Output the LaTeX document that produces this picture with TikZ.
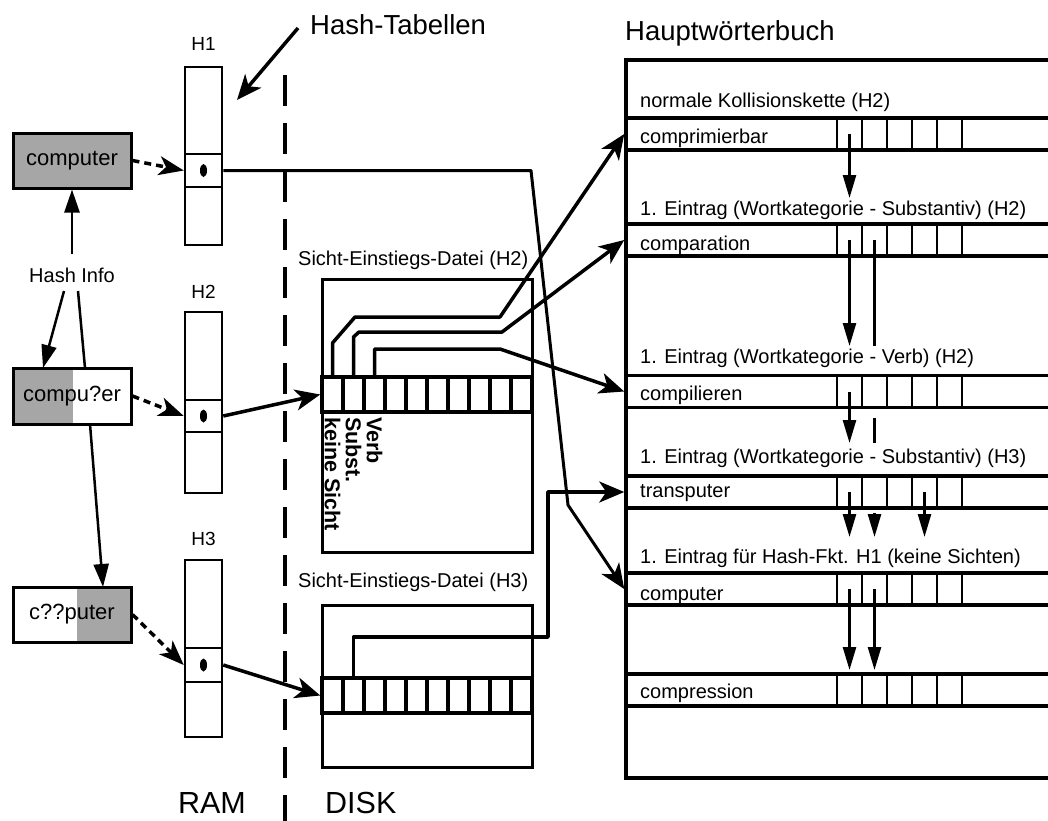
\documentclass[tikz,border=0pt]{standalone}
\usepackage{fontspec}
\setmainfont{Liberation Sans}
\usetikzlibrary{arrows.meta}
\begin{document}
\begin{tikzpicture}[x=1pt,y=-1pt,
  lab/.style={inner sep=0pt, font=\fontsize{20}{24}\selectfont},
  hlab/.style={inner sep=0pt, font=\fontsize{19}{23}\selectfont},
  titlefont/.style={inner sep=0pt, font=\fontsize{27.5}{32}\selectfont},
  ramfont/.style={inner sep=0pt, font=\fontsize{30.5}{36}\selectfont},
  vlab/.style={inner sep=0pt, rotate=-90, anchor=west, font=\bfseries\fontsize{21.5}{24}\selectfont},
  wbox/.style={draw, line width=3pt, minimum width=118pt, inner sep=0pt, font=\fontsize{22}{26}\selectfont},
  shade/.style={fill=black!35},
  htab/.style={draw, line width=2.5pt, minimum width=37pt, inner sep=0pt},
  hcell/.style={draw, line width=2.5pt, minimum width=37pt, inner sep=0pt},
  sedbox/.style={draw, line width=3pt, minimum width=210pt, inner sep=0pt},
  scell/.style={draw, line width=3.5pt, minimum width=21pt, minimum height=35pt, inner sep=0pt},
  drow/.style={draw, line width=3.5pt, minimum width=460pt, minimum height=32pt, inner sep=0pt},
  dcell/.style={draw, line width=2pt, minimum width=25pt, minimum height=32pt, inner sep=0pt},
  conn/.style={line width=3.5pt, line join=round, -{Stealth[length=25pt,width=21pt,inset=7pt]}},
  dsh/.style={line width=3.5pt, dash pattern=on 7pt off 5pt, -{Stealth[length=25pt,width=19pt,inset=7pt]}},
  varr/.style={line width=2.5pt, -{Triangle[length=23pt,width=13pt]}},
  vline/.style={line width=2.5pt},
  harr/.style={line width=2.5pt, -{Triangle[length=23pt,width=15pt]}},
]
\useasboundingbox (0,0) rectangle (1048,820);

% ---------- titles ----------
\node[titlefont, anchor=base west] (ht) at (310,34) {Hash-Tabellen};
\node[titlefont, anchor=base west] (hw) at (625,40) {Hauptwörterbuch};
\node[ramfont, anchor=base] (ram) at (212,813) {RAM};
\node[ramfont, anchor=base west] (disk) at (325,813) {DISK};

% ---------- RAM / DISK divider ----------
\draw[line width=4.5pt, dash pattern=on 31pt off 17pt] (285,75) -- (285,830);

% ---------- word boxes ----------
\node[wbox, shade, minimum height=55pt] (w1) at (72,160.5) {computer};
\fill[shade] (13,368) rectangle (73,424);
\node[wbox, minimum height=56pt] (w2) at (72,396) {compu?er};
\fill[shade] (77,587) rectangle (131,642);
\node[wbox, minimum height=55pt] (w3) at (72,614.5) {c??puter};
\node[lab, anchor=base] (hi) at (72,282) {Hash Info};

\coordinate (hiA) at (72,254);
\coordinate (hiB) at (64,291);
\coordinate (w2A) at (43,368);
\coordinate (hiC) at (78,291);
\coordinate (w2B) at (85,368);
\coordinate (w2C) at (90,424);
\coordinate (w3A) at (103,587);
\draw[harr] (hiA) -- (w1.south);
\draw[harr] (hiB) -- (w2A);
\draw[vline] (hiC) -- (w2B);
\draw[harr] (w2C) -- (w3A);

% ---------- hash tables ----------
\node[hlab, anchor=base] (l1) at (203.5,50) {H1};
\node[hlab, anchor=base] (l2) at (203.5,298) {H2};
\node[hlab, anchor=base] (l3) at (203.5,545) {H3};
\node[htab, minimum height=178pt] (h1) at (203.5,156) {};
\node[hcell, minimum height=33pt] (h1c) at (203.5,170.5) {};
\node[htab, minimum height=181pt] (h2) at (203.5,402.5) {};
\node[hcell, minimum height=32pt] (h2c) at (203.5,416) {};
\node[htab, minimum height=177pt] (h3) at (203.5,648.5) {};
\node[hcell, minimum height=34pt] (h3c) at (203.5,665) {};
\foreach \c in {h1c,h2c,h3c}
  \fill (\c.center) ellipse [x radius=3.5pt, y radius=6.5pt];

\coordinate (htS) at (298,28);
\coordinate (htE) at (237,100);
\draw[conn] (htS) -- (htE);

\draw[dsh] (w1.east) -- (h1c.west);
\draw[dsh] (w2.east) -- (h2c.west);
\draw[dsh] (w3.east) -- (h3c.west);

% ---------- Sicht-Einstiegs-Dateien ----------
\node[lab, anchor=base west] (sl2) at (298,265) {Sicht-Einstiegs-Datei (H2)};
\node[sedbox, minimum height=273pt] (s2) at (427,415.5) {};
\foreach \i in {1,...,10}
  \node[scell] (s2c\i) at ({311.5+21*\i},394.5) {};
\node[vlab] (v1) at (332.5,417) {keine Sicht};
\node[vlab] (v2) at (353.5,417) {Subst.};
\node[vlab] (v3) at (374.5,417) {Verb};

\node[lab, anchor=base west] (sl3) at (298,587) {Sicht-Einstiegs-Datei (H3)};
\node[sedbox, minimum height=162pt] (s3) at (427,686) {};
\foreach \i in {1,...,10}
  \node[scell] (s3c\i) at ({311.5+21*\i},695.5) {};

% ---------- Hauptwoerterbuch ----------
\node[draw, line width=3.5pt, minimum width=460pt, minimum height=718pt, inner sep=0pt] (dict) at (856,419) {};
\node[drow] (r1) at (856,134) {};
\node[drow] (r2) at (856,240) {};
\node[drow] (r3) at (856,391.5) {};
\node[drow] (r4) at (856,492) {};
\node[drow] (r5) at (856,589) {};
\node[drow] (r6) at (856,690) {};
\foreach \r in {r1,r2,r3,r4,r5,r6}
  \foreach \j in {1,...,5}
    \node[dcell] (\r c\j) at ({824.5+25*\j},0 |- \r.center) {};

\node[lab, anchor=base west] (k1) at (640,107) {normale Kollisionskette (H2)};
\node[lab, anchor=base west] (k2) at (640,215) {1. Eintrag (Wortkategorie - Substantiv) (H2)};
\node[lab, anchor=base west] (k3) at (640,363) {1. Eintrag (Wortkategorie - Verb) (H2)};
\node[lab, anchor=base west] (k4) at (640,463) {1. Eintrag (Wortkategorie - Substantiv) (H3)};
\node[lab, anchor=base west] (k5) at (640,563) {1. Eintrag für Hash-Fkt. H1 (keine Sichten)};

\node[lab, anchor=base west] (t1) at (640,143) {comprimierbar};
\node[lab, anchor=base west] (t2) at (640,250) {comparation};
\node[lab, anchor=base west] (t3) at (640,400) {compilieren};
\node[lab, anchor=base west] (t4) at (640,497) {transputer};
\node[lab, anchor=base west] (t5) at (640,600) {computer};
\node[lab, anchor=base west] (t6) at (640,698) {compression};

% vertical chain arrows
\coordinate (e1) at (849.5,198);
\coordinate (e2) at (849.5,346);
\coordinate (e3) at (874.5,346);
\coordinate (e4) at (849.5,443);
\coordinate (e5a) at (874.5,418);
\coordinate (e5) at (874.5,443);
\coordinate (e6) at (849.5,537);
\coordinate (e7a) at (874.5,513);
\coordinate (e7) at (874.5,537);
\coordinate (e8) at (924.5,537);
\coordinate (e9) at (849.5,670);
\coordinate (e10) at (874.5,670);
\draw[varr] (r1c1.center) -- (e1);
\draw[varr] (r2c1.center) -- (e2);
\draw[vline] (r2c2.center) -- (e3);
\draw[varr] (r3c1.center) -- (e4);
\draw[vline] (e5a) -- (e5);
\draw[varr] (r4c1.center) -- (e6);
\draw[varr] (e7a) -- (e7);
\draw[varr] (r4c4.center) -- (e8);
\draw[varr] (r5c1.center) -- (e9);
\draw[varr] (r5c2.center) -- (e10);

% ---------- main connectors ----------
\draw[conn, line width=3pt] (h1c.east) -- (531,170.5) -- (568,505) -- (r5.west);
\draw[conn] (h2c.east) -- (s2c1.west);
\draw[conn] (h3c.east) -- (s3c1.west);
\draw[conn] (s2c1.north) -- (332.5,343) -- (355,317) -- (500,317) -- (r1.west);
\draw[conn] (s2c2.north) -- (353.5,337) -- (359,332) -- (502,332) -- (r2.west);
\draw[conn] (s2c3.north) -- (374.5,349) -- (500,349) -- (r3.west);
\draw[conn] (s3c2.north) -- (353.5,637) -- (548,637) -- (548,492) -- (r4.west);
\end{tikzpicture}
\end{document}
